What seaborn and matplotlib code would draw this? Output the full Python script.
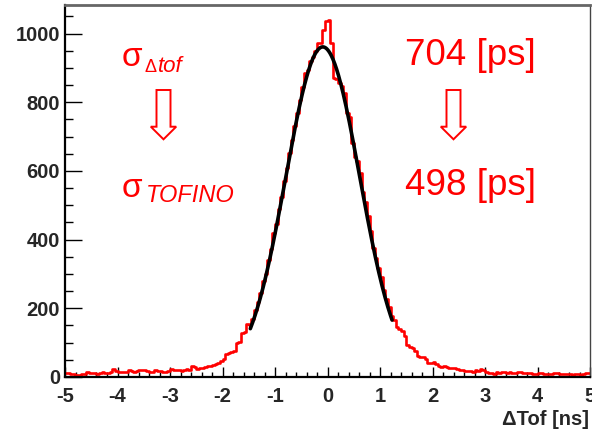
import numpy as np
import pandas as pd
import matplotlib
matplotlib.use("Agg")
import matplotlib.pyplot as plt
from matplotlib.ticker import MultipleLocator
from matplotlib.patches import Polygon
import seaborn as sns

# Delta-TOF histogram: 200 bins of 0.05 ns from -5 to 5 ns
bin_edges = [round(-5.0 + 0.05 * i, 3) for i in range(201)]
bin_centers = [round(e + 0.025, 3) for e in bin_edges[:-1]]
counts = [
    # -5.0 .. -2.0
    13, 11, 10, 8, 6, 7, 8, 10, 14, 12,
    12, 11, 10, 12, 15, 13, 13, 15, 22, 18,
    16, 15, 14, 16, 19, 17, 16, 18, 21, 19,
    20, 18, 14, 16, 19, 17, 18, 16, 15, 17,
    22, 20, 21, 19, 17, 19, 23, 21, 31, 28,
    24, 25, 27, 29, 33, 32, 36, 39, 42, 47,
    # -2.0 .. -1.5
    52, 66, 70, 74, 76, 98, 102, 128, 132, 155,
    # -1.5 .. 1.5
    150, 168, 196, 218, 245, 280, 300, 340, 372, 418,
    445, 490, 525, 570, 608, 652, 690, 730, 768, 805,
    845, 885, 895, 920, 932, 950, 971, 972, 1010, 1037,
    1040, 972, 870, 868, 855, 848, 826, 770, 757, 682,
    640, 628, 595, 540, 510, 468, 425, 375, 345, 318,
    290, 252, 228, 205, 178, 165, 146, 140, 135, 118,
    # 1.5 .. 5.0
    92, 86, 84, 76, 62, 58, 57, 52, 42, 40,
    44, 38, 31, 29, 32, 28, 27, 26, 25, 23,
    21, 19, 18, 18, 17, 16, 19, 18, 23, 21,
    14, 12, 11, 10, 14, 13, 15, 14, 13, 15,
    13, 12, 16, 14, 12, 11, 13, 11, 10, 9,
    12, 11, 9, 8, 10, 9, 13, 11, 9, 8,
    10, 9, 8, 7, 9, 8, 7, 8, 11, 13,
]

# Gaussian fit parameters (sigma of Delta-tof in ns)
fit_amplitude = 961.0
fit_mean = -0.09
fit_sigma = 0.704
fit_range = (-1.47, 1.23)

sigma_before = "704 [ps]"
sigma_after = "498 [ps]"

sns.set_theme(style="white")
plt.rcParams["font.family"] = ["Liberation Sans", "DejaVu Sans"]
plt.rcParams["axes.unicode_minus"] = False

W, H = 592, 432
fig = plt.figure(figsize=(W / 100, H / 100), dpi=100)
fig.patch.set_facecolor("white")
ax = fig.add_axes([65 / W, 1 - 377 / H, 525 / W, 372 / H])

hist_df = pd.DataFrame({"tof": bin_centers, "n": counts})
sns.histplot(data=hist_df, x="tof", weights="n", bins=bin_edges,
             element="step", fill=False, color="#ff0000", linewidth=1.9, ax=ax)

xf = np.linspace(fit_range[0], fit_range[1], 300)
yf = fit_amplitude * np.exp(-0.5 * ((xf - fit_mean) / fit_sigma) ** 2)
fit_df = pd.DataFrame({"x": xf, "y": yf})
sns.lineplot(data=fit_df, x="x", y="y", color="black", linewidth=2.6, ax=ax)

ax.set_xlim(-5, 5)
ax.set_ylim(0, 1083)
ax.set_ylabel("")

ax.xaxis.set_major_locator(MultipleLocator(1))
ax.xaxis.set_minor_locator(MultipleLocator(0.2))
ax.yaxis.set_major_locator(MultipleLocator(200))
ax.yaxis.set_minor_locator(MultipleLocator(50))

ax.tick_params(axis="y", which="major", direction="in", length=12, width=1.0,
               color="black", left=True, right=False, labelsize=14.5, pad=3.5)
ax.tick_params(axis="y", which="minor", direction="in", length=6, width=1.0,
               color="black", left=True, right=False)
ax.tick_params(axis="x", which="major", direction="in", length=7, width=1.0,
               color="black", bottom=True, top=False, labelsize=14.5, pad=7)
ax.tick_params(axis="x", which="minor", direction="in", length=3.5, width=1.0,
               color="black", bottom=True, top=False)
for lbl in ax.get_xticklabels() + ax.get_yticklabels():
    lbl.set_fontweight("bold")

for side in ("left", "bottom"):
    ax.spines[side].set_color("black")
    ax.spines[side].set_linewidth(1.6)
ax.spines["top"].set_color("#666666")
ax.spines["top"].set_linewidth(2.0)
ax.spines["right"].set_color("#444444")
ax.spines["right"].set_linewidth(1.0)

ax.set_xlabel("\u0394Tof [ns]", fontsize=14.5, fontweight="bold")
ax.xaxis.label.set_horizontalalignment("right")
ax.xaxis.label.set_verticalalignment("baseline")
ax.xaxis.set_label_coords(0.998, -(425 - 377) / 372)


def fpos(x, y):
    return x / W, 1 - y / H


red = "#ff0000"

# sigma labels
fig.text(*fpos(122, 66.5), "\u03c3", color=red, fontsize=24, va="baseline", ha="left")
fig.text(*fpos(144.5, 71.7), "\u0394", color=red, fontsize=13, va="baseline", ha="left")
fig.text(*fpos(158, 71.7), "tof", color=red, fontsize=16, style="italic",
         va="baseline", ha="left")
fig.text(*fpos(122, 196.5), "\u03c3", color=red, fontsize=24, va="baseline", ha="left")
fig.text(*fpos(146, 202), "TOFINO", color=red, fontsize=17, style="italic",
         va="baseline", ha="left")

fig.text(*fpos(405, 65), sigma_before, color=red, fontsize=26.5, va="baseline", ha="left")
fig.text(*fpos(405, 195), sigma_after, color=red, fontsize=26.5, va="baseline", ha="left")


def hollow_arrow(cx):
    top, head, tip = 90, 126.7, 139.3
    sw, hw = 7.0, 12.7
    pts = [(cx - sw, top), (cx + sw, top), (cx + sw, head), (cx + hw, head),
           (cx, tip), (cx - hw, head), (cx - sw, head)]
    poly = Polygon([fpos(x, y) for x, y in pts], closed=True, fill=False,
                   edgecolor=red, linewidth=1.4, transform=fig.transFigure)
    fig.patches.append(poly)


hollow_arrow(163.5)
hollow_arrow(453.5)

fig.savefig("out.png", dpi=100, facecolor="white")
